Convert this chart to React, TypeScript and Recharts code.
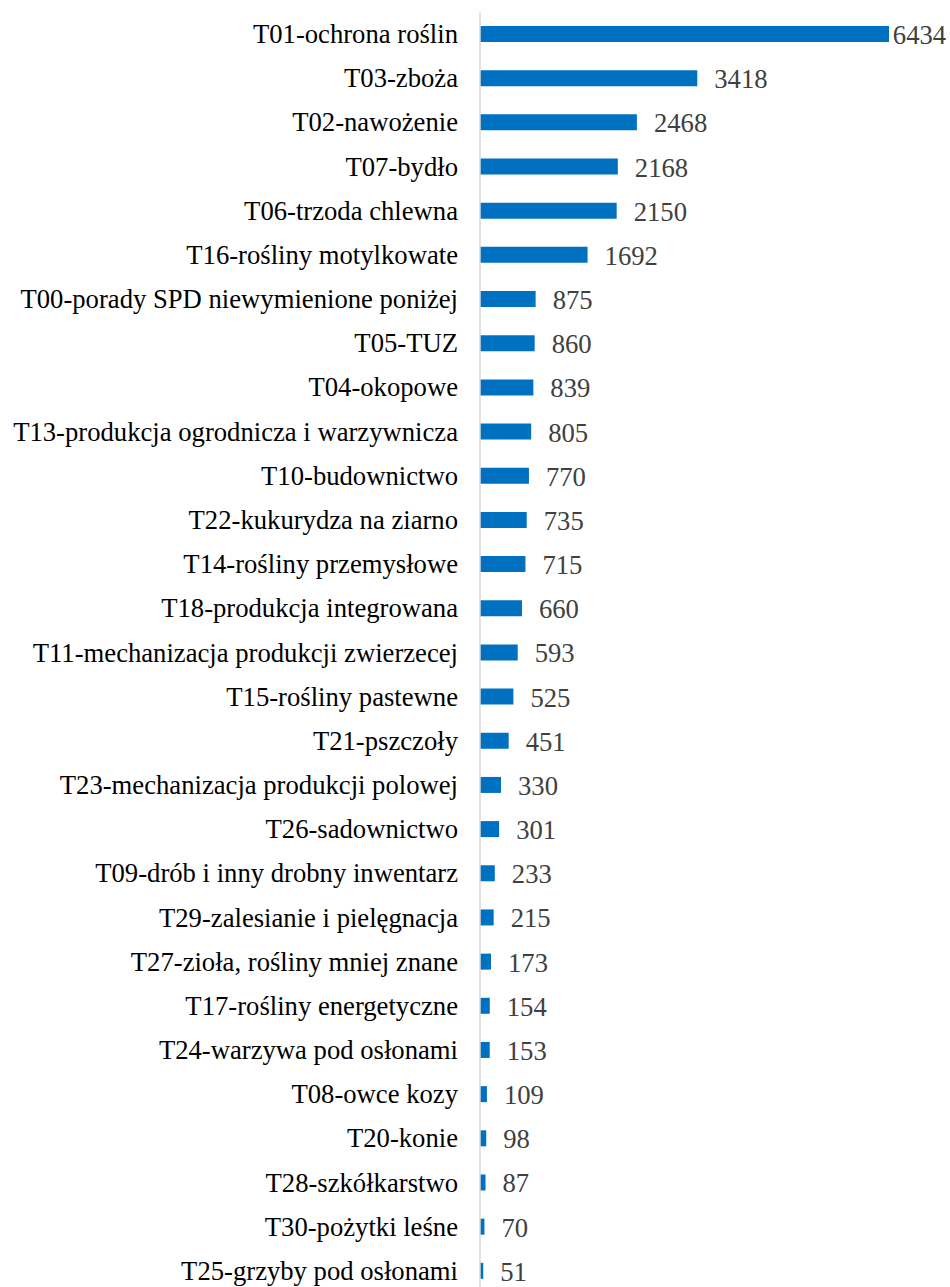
import { BarChart, Bar, XAxis, YAxis, LabelList } from 'recharts';

const categories = [
  'T01-ochrona roślin',
  'T03-zboża',
  'T02-nawożenie',
  'T07-bydło',
  'T06-trzoda chlewna',
  'T16-rośliny motylkowate',
  'T00-porady SPD niewymienione poniżej',
  'T05-TUZ',
  'T04-okopowe',
  'T13-produkcja ogrodnicza i warzywnicza',
  'T10-budownictwo',
  'T22-kukurydza na ziarno',
  'T14-rośliny przemysłowe',
  'T18-produkcja integrowana',
  'T11-mechanizacja produkcji zwierzecej',
  'T15-rośliny pastewne',
  'T21-pszczoły',
  'T23-mechanizacja produkcji polowej',
  'T26-sadownictwo',
  'T09-drób i inny drobny inwentarz',
  'T29-zalesianie i pielęgnacja',
  'T27-zioła, rośliny mniej znane',
  'T17-rośliny energetyczne',
  'T24-warzywa pod osłonami',
  'T08-owce kozy',
  'T20-konie',
  'T28-szkółkarstwo',
  'T30-pożytki leśne',
  'T25-grzyby pod osłonami',
];

const counts = [
  6434, 3418, 2468, 2168, 2150, 1692, 875, 860, 839, 805, 770, 735, 715, 660, 593,
  525, 451, 330, 301, 233, 215, 173, 154, 153, 109, 98, 87, 70, 51,
];

const data = categories.map((name, i) => ({ name, value: counts[i] }));

const FONT = "'Liberation Serif', 'Times New Roman', serif";
const FONT_SIZE = 26.67;

const CategoryTick = ({ x, y, payload }: any) => (
  <text
    x={x - 22}
    y={y}
    textAnchor="end"
    dominantBaseline="central"
    fontFamily={FONT}
    fontSize={FONT_SIZE}
    fill="#000000"
  >
    {payload.value}
  </text>
);

// Excel-style outside-end label, pushed back inside the chart when it overflows
const ValueLabel = ({ x, y, width, height, value }: any) => {
  const w = String(value).length * 13.3;
  let lx = x + width + 17;
  if (lx + w > 946) lx = 946 - w;
  return (
    <text
      x={lx}
      y={y + height / 2 + 1}
      textAnchor="start"
      dominantBaseline="central"
      fontFamily={FONT}
      fontSize={FONT_SIZE}
      fill="#404040"
    >
      {value}
    </text>
  );
};

export default function App() {
  return (
    <div
      style={{
        position: 'fixed',
        top: 0,
        left: 0,
        width: 950,
        height: 1287,
        overflow: 'hidden',
        background: '#ffffff',
      }}
    >
      <BarChart
        width={950}
        height={1300}
        data={data}
        layout="vertical"
        margin={{ top: 12, right: 25, bottom: 7, left: 0 }}
      >
        <XAxis type="number" domain={[0, 7000]} hide />
        <YAxis
          type="category"
          dataKey="name"
          width={480}
          tickLine={false}
          tickSize={0}
          tickMargin={0}
          axisLine={{ stroke: '#d9d9d9', strokeWidth: 1.5 }}
          tick={<CategoryTick />}
          interval={0}
        />
        <Bar dataKey="value" fill="#0070C0" barSize={16} isAnimationActive={false}>
          <LabelList dataKey="value" content={<ValueLabel />} />
        </Bar>
      </BarChart>
    </div>
  );
}
